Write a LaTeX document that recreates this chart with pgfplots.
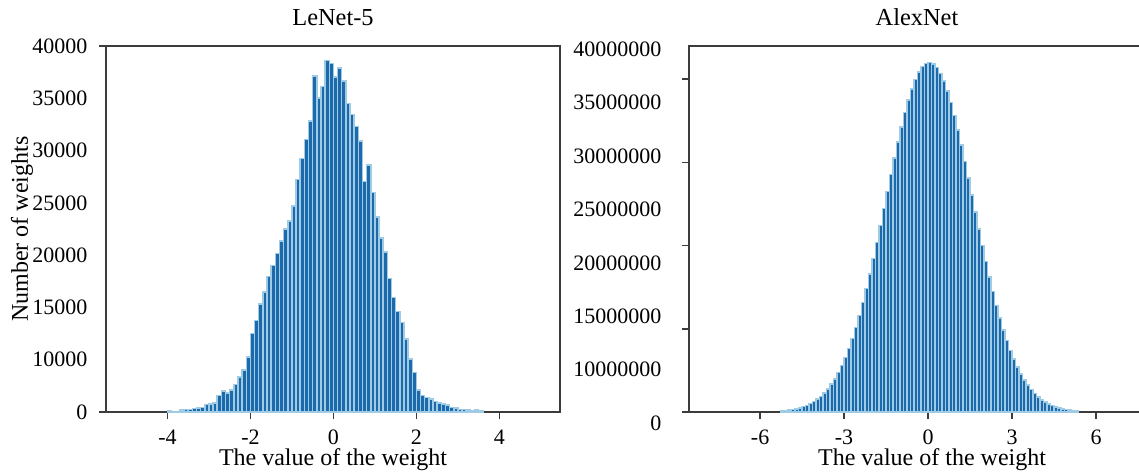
\documentclass[border=0pt]{standalone}
\usepackage{fontspec}
\setmainfont{Liberation Serif}
\usepackage{pgfplots}
\pgfplotsset{compat=1.18}

\definecolor{barfill}{RGB}{28,105,172}
\definecolor{baredge}{RGB}{160,203,228}
\definecolor{axisgray}{RGB}{60,60,60}

\pgfplotsset{
  histo/.style={
    scale only axis, height=183pt, ymin=0,
    scaled y ticks=false, scaled x ticks=false,
    tick align=outside, xtick pos=bottom, ytick pos=left,
    axis line style={axisgray,line width=0.8pt},
    major tick length=3.5pt, minor tick length=3.5pt,
    tick style={axisgray,line width=0.8pt},
    major y tick style={draw=none},
    font=\fontsize{11}{13}\selectfont,
    title style={font=\fontsize{12.2}{14}\selectfont,
      at={(axis description cs:0.5,1)},anchor=base,yshift=4.5pt},
    every axis x label/.style={at={(axis description cs:0.5,0)},
      anchor=base,yshift=-26.5pt,font=\fontsize{12}{14}\selectfont},
    xticklabel style={anchor=base,yshift=-12.5pt},
    xlabel={The value of the weight},
  },
  bars/.style={ybar interval,fill=barfill,draw=baredge,line width=0.75pt},
}

\begin{document}
\begin{tikzpicture}
% LeNet-5
\begin{axis}[histo, at={(53pt,30.5pt)}, anchor=south west,
  width=227pt, xmin=-5.48, xmax=5.46, ymax=40000,
  title={LeNet-5},
  xtick={-4,-2,0,2,4}, xticklabels={-4,-2,0,2,4},
  ytick={0,5714.3,11428.6,17142.9,22857.1,28571.4,34285.7,40000},
  yticklabels={0,10000,15000,20000,25000,30000,35000,40000},
  yticklabel style={xshift=-2.3pt},
  minor ytick={0,40000},
  ylabel={Number of weights},
  every axis y label/.style={at={(axis description cs:-0.185,0.5)},
    rotate=90,anchor=center,font=\fontsize{12}{14}\selectfont},
]
\addplot[bars] coordinates {
(-4.0,150) (-3.9,0) (-3.8,80) (-3.7,200) (-3.6,250) (-3.5,300) (-3.4,400)
(-3.3,450) (-3.2,500) (-3.1,800) (-3.0,900) (-2.9,1000) (-2.8,1800)
(-2.7,2300) (-2.6,2100) (-2.5,2400) (-2.4,3000) (-2.3,3800) (-2.2,4600)
(-2.1,6000) (-2.0,8600) (-1.9,10000) (-1.8,11800) (-1.7,13100) (-1.6,14800)
(-1.5,16000) (-1.4,17300) (-1.3,18700) (-1.2,20000) (-1.1,20900) (-1.0,22500)
(-0.9,25400) (-0.8,27700) (-0.7,29800) (-0.6,31800) (-0.5,36700) (-0.4,34300)
(-0.3,35600) (-0.2,38400) (-0.1,38100) (0.0,36600) (0.1,37600) (0.2,36200)
(0.3,33700) (0.4,32500) (0.5,31200) (0.6,29600) (0.7,25200) (0.8,27000)
(0.9,24000) (1.0,21300) (1.1,19000) (1.2,17500) (1.3,14600) (1.4,12500)
(1.5,11000) (1.6,9800) (1.7,8000) (1.8,5800) (1.9,4300) (2.0,2400)
(2.1,1800) (2.2,1600) (2.3,1400) (2.4,1150) (2.5,1000) (2.6,850)
(2.7,750) (2.8,500) (2.9,450) (3.0,300) (3.1,250) (3.2,200)
(3.3,150) (3.4,200) (3.5,100) (3.6,0)
};
\end{axis}

% AlexNet (values in millions)
\begin{axis}[histo, at={(344.5pt,30.5pt)}, anchor=south west,
  width=228pt, xmin=-8.54, xmax=7.75, ymax=44,
  title={AlexNet},
  every axis x label/.style={at={(axis description cs:0.533,0)},
    anchor=base,yshift=-26.5pt,font=\fontsize{12}{14}\selectfont},
  xtick={-6,-3,0,3,6}, xticklabels={-6,-3,0,3,6},
  ytick={5.10,11.52,17.93,24.35,30.77,37.19,43.61},
  yticklabels={10000000,15000000,20000000,25000000,30000000,35000000,40000000},
  yticklabel style={xshift=-6.8pt},
  extra y ticks={0}, extra y tick labels={0},
  extra y tick style={yticklabel style={yshift=-5.5pt}},
  minor ytick={0,10,20,30,40},
]
\addplot[bars] coordinates {
(-5.25,0.14) (-5.125,0.18) (-5.0,0.24) (-4.875,0.31) (-4.75,0.39)
(-4.625,0.50) (-4.5,0.64) (-4.375,0.80) (-4.25,1.00) (-4.125,1.24)
(-4.0,1.54) (-3.875,1.88) (-3.75,2.29) (-3.625,2.78) (-3.5,3.34)
(-3.375,3.99) (-3.25,4.74) (-3.125,5.59) (-3.0,6.56) (-2.875,7.64)
(-2.75,8.83) (-2.625,10.15) (-2.5,11.59) (-2.375,13.15) (-2.25,14.82)
(-2.125,16.59) (-2.0,18.46) (-1.875,20.40) (-1.75,22.41) (-1.625,24.45)
(-1.5,26.50) (-1.375,28.54) (-1.25,30.54) (-1.125,32.46) (-1.0,34.29)
(-0.875,35.98) (-0.75,37.51) (-0.625,38.85) (-0.5,39.97) (-0.375,40.87)
(-0.25,41.51) (-0.125,41.89) (0.0,42.00) (0.125,41.84) (0.25,41.40)
(0.375,40.71) (0.5,39.77) (0.625,38.59) (0.75,37.21) (0.875,35.65)
(1.0,33.93) (1.125,32.08) (1.25,30.14) (1.375,28.14) (1.5,26.09)
(1.625,24.04) (1.75,22.00) (1.875,20.01) (2.0,18.08) (2.125,16.23)
(2.25,14.47) (2.375,12.82) (2.5,11.29) (2.625,9.87) (2.75,8.58)
(2.875,7.41) (3.0,6.35) (3.125,5.41) (3.25,4.58) (3.375,3.85)
(3.5,3.22) (3.625,2.68) (3.75,2.21) (3.875,1.81) (4.0,1.47)
(4.125,1.19) (4.25,0.96) (4.375,0.77) (4.5,0.61) (4.625,0.48)
(4.75,0.37) (4.875,0.29) (5.0,0.23) (5.125,0.17) (5.25,0.13) (5.375,0)
};
\end{axis}
\pgfresetboundingbox
\path[use as bounding box] (0,0) rectangle (569.5pt,236.5pt);
\end{tikzpicture}
\end{document}
